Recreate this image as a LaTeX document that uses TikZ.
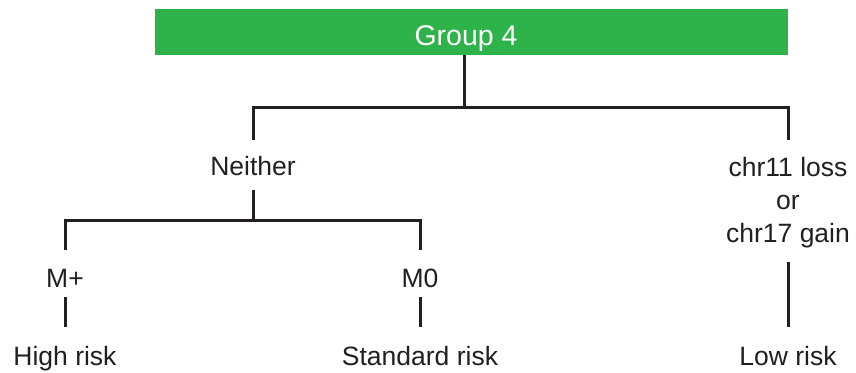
\documentclass[tikz,border=0pt]{standalone}
\usepackage{fontspec}
\setmainfont{Liberation Sans}
\definecolor{grp}{RGB}{45,179,74}
\definecolor{ln}{RGB}{35,31,32}
\begin{document}
\begin{tikzpicture}[x=1pt,y=-1pt,
  lbl/.style={font=\fontsize{26.5}{33}\selectfont, text=ln, inner sep=0pt, align=center, anchor=base},
  conn/.style={draw=ln, line width=3pt}]
\useasboundingbox (0,0) rectangle (856,372);
\node[fill=grp, minimum width=633pt, minimum height=46pt, inner sep=0pt] (g4) at (471.5,32) {};
\node[lbl, text=white, font=\fontsize{28.5}{33}\selectfont] (g4t) at (466,45.5) {Group 4};
\coordinate (gb) at (464,55);
\coordinate (j1) at (464,107.5);
\coordinate (jl) at (253,107.5);
\coordinate (jr) at (788,107.5);
\node[lbl] (nei) at (253,175) {Neither};
\node[lbl] (chr) at (788,242) {chr11 loss\\or\\chr17 gain};
\coordinate (nt) at (253,140);
\coordinate (ct) at (788,140);
\coordinate (nb) at (253,190);
\coordinate (j2) at (253,220);
\coordinate (j2l) at (65,220);
\coordinate (j2r) at (420,220);
\coordinate (mpt) at (65,250);
\coordinate (m0t) at (420,250);
\node[lbl] (mp) at (65,287) {M+};
\node[lbl] (m0) at (420,287) {M0};
\node[lbl] (hr) at (65,365) {High risk};
\node[lbl] (sr) at (420,365) {Standard risk};
\node[lbl] (lr) at (788,365) {Low risk};
\coordinate (mpb) at (65,297);
\coordinate (mpe) at (65,327);
\coordinate (m0b) at (420,297);
\coordinate (m0e) at (420,327);
\coordinate (cb) at (788,262);
\coordinate (ce) at (788,327);
\draw[conn] (gb) -- (j1);
\draw[conn] (nt) -- (jl) -- (jr) -- (ct);
\draw[conn] (nb) -- (j2);
\draw[conn] (mpt) -- (j2l) -- (j2r) -- (m0t);
\draw[conn] (mpb) -- (mpe);
\draw[conn] (m0b) -- (m0e);
\draw[conn] (cb) -- (ce);
\end{tikzpicture}
\end{document}
